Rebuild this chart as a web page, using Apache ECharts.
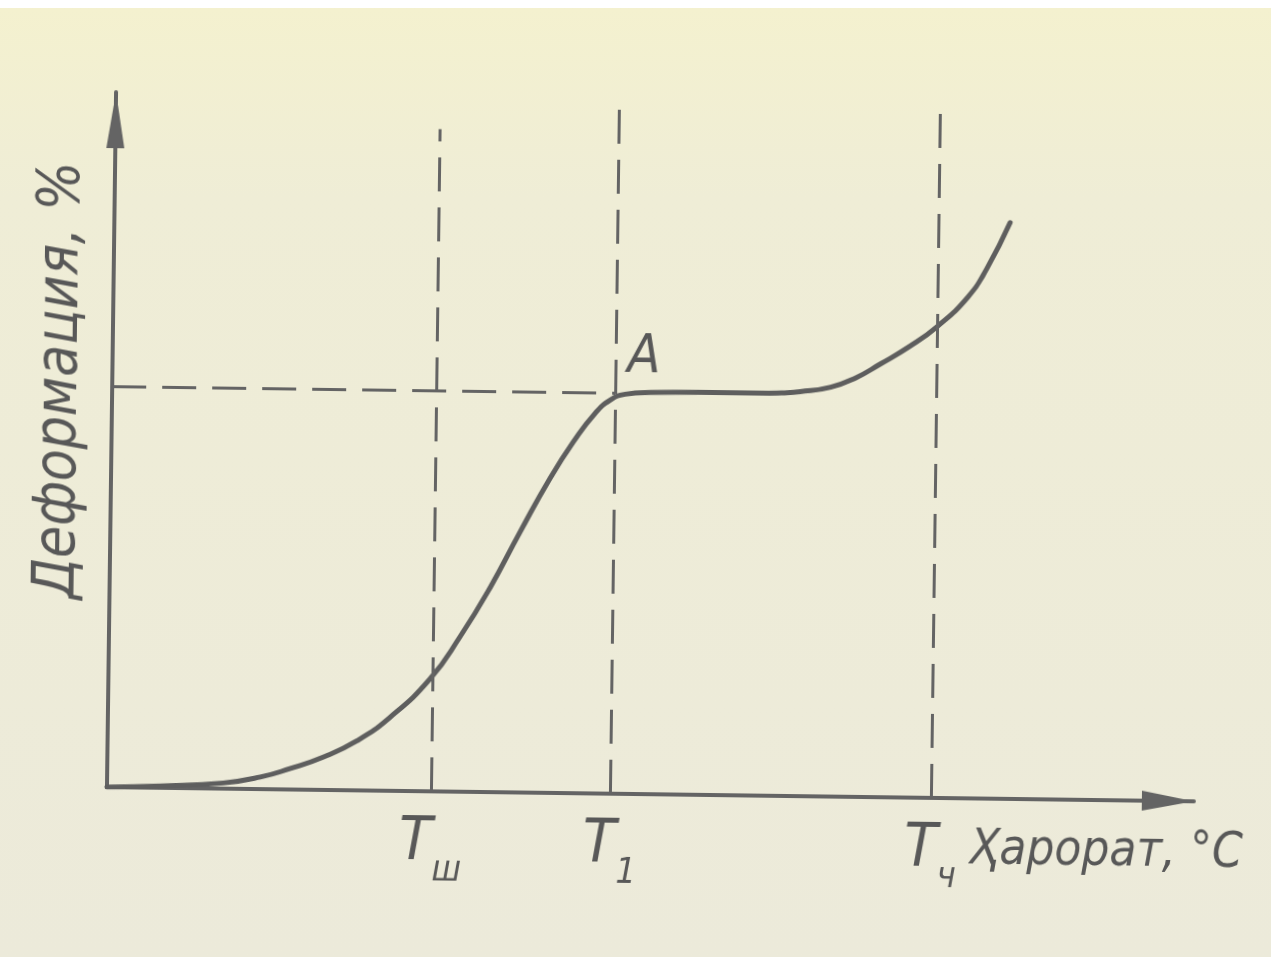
<!DOCTYPE html>
<html>
<head>
<meta charset="utf-8">
<script src="https://cdn.jsdelivr.net/npm/echarts@6/dist/echarts.min.js"></script>
<style>
  html, body { margin: 0; padding: 0; background: #ffffff; }
  #paper {
    position: absolute; left: 0; top: 8px; width: 1271px; height: 949px;
    background: linear-gradient(180deg, #f4f1cf 0%, #efedd6 20%, #eceada 100%);
  }
  #chart {
    position: absolute; left: 0; top: 0; width: 1271px; height: 964px;
    transform: rotate(0.75deg); transform-origin: 50% 50%;
  }
</style>
</head>
<body>
<div id="paper"></div>
<div id="chart"></div>
<script>
// Thermomechanical curve: deformation against temperature (arbitrary units, 0–100)
const temperature = [0, 4.9, 10.7, 14.1, 16.8, 19.9, 22.9, 25.9, 29.6, 32.3, 35.0, 37.7, 40.4, 42.6,
  44.4, 45.8, 47.2, 49.5, 54.1, 59.6, 61.6, 63.3, 66.1, 68.4, 70.6, 73.3, 75.8, 78.6, 80.3, 82.4];
const deformation = [0, 0.26, 0.81, 1.74, 3.0, 4.75, 7.1, 10.5, 16.2, 22.3, 29.4, 37.5, 45.3, 50.8,
  54.6, 56.6, 57.5, 57.8, 57.9, 57.9, 58.0, 58.2, 58.9, 60.3, 62.3, 64.9, 67.8, 72.1, 76.2, 82.9];

// Transition temperatures: T_ш (glass), T_1, T_ч (flow)
const transitionSubs = ['ш', '1', 'ч'];
const transitionTemps = [29.8, 46.3, 75.8];
const guideTops = [95.3, 100, 100];

// Point A at the start of the plateau
const pointA = [46.3, 57.6];
const pointALabel = 'A';

const xAxisName = 'Ҳарорат, °С';
const yAxisName = 'Деформация, %';

const INK = '#646464';
const TEXT = '#585858';
const FONT = "'DejaVu Sans Condensed', 'DejaVu Sans', sans-serif";

const curveData = temperature.map((t, i) => [t, deformation[i]]);

const guideLines = transitionTemps.map((t, i) => [
  { coord: [t, 0] },
  { coord: [t, guideTops[i]] }
]);
guideLines.push([{ coord: [0, pointA[1]] }, { coord: [pointA[0], pointA[1]] }]);

const chart = echarts.init(document.getElementById('chart'), null, { renderer: 'canvas' });

chart.setOption({
  backgroundColor: 'transparent',
  animation: false,
  grid: { left: 111, right: 73, top: 99, bottom: 170, containLabel: false },
  xAxis: {
    type: 'value', min: 0, max: 100,
    axisLine: {
      show: true, onZero: false,
      lineStyle: { color: INK, width: 4 },
      symbol: ['none', 'triangle'], symbolSize: [20, 52], symbolOffset: [0, -26]
    },
    axisTick: { show: false },
    splitLine: { show: false },
    axisLabel: {
      customValues: transitionTemps,
      margin: 48,
      formatter: (v) => {
        const i = transitionTemps.indexOf(v);
        return '{t|T}{s|' + transitionSubs[i] + '}';
      },
      rich: {
        t: { fontSize: 60, lineHeight: 50, fontStyle: 'italic', fontFamily: FONT, color: TEXT,
             verticalAlign: 'bottom', padding: [0, 0, 16, 0] },
        s: { fontSize: 36, lineHeight: 36, fontStyle: 'italic', fontFamily: FONT, color: TEXT,
             verticalAlign: 'bottom' }
      }
    },
    name: xAxisName,
    nameLocation: 'end',
    nameGap: -224,
    nameTextStyle: {
      fontSize: 49, fontStyle: 'italic', fontFamily: FONT, color: TEXT,
      align: 'left', verticalAlign: 'top', padding: [28, 0, 0, 0]
    }
  },
  yAxis: {
    type: 'value', min: 0, max: 100,
    axisLine: {
      show: true, onZero: false,
      lineStyle: { color: INK, width: 4 },
      symbol: ['none', 'triangle'], symbolSize: [18, 56], symbolOffset: [0, -28]
    },
    axisTick: { show: false },
    splitLine: { show: false },
    axisLabel: { show: false },
    name: yAxisName,
    nameLocation: 'middle',
    nameGap: 22,
    nameTextStyle: {
      fontSize: 58, fontStyle: 'italic', fontFamily: FONT, color: TEXT,
      padding: [0, 0, 0, 118]
    }
  },
  series: [
    {
      type: 'line',
      data: [],
      silent: true,
      markLine: {
        silent: true,
        symbol: ['none', 'none'],
        label: { show: false },
        lineStyle: { color: '#646464', width: 3, type: [34, 16] },
        data: guideLines
      }
    },
    {
      type: 'line',
      data: curveData,
      smooth: 0.5,
      showSymbol: false,
      silent: true,
      lineStyle: { color: '#5e5e5e', width: 5, cap: 'round' },
      markPoint: {
        silent: true,
        symbol: 'circle',
        symbolSize: 1,
        itemStyle: { color: 'rgba(0,0,0,0)' },
        label: {
          show: true,
          formatter: pointALabel,
          position: [12, -62],
          fontSize: 54, fontStyle: 'italic', fontFamily: FONT, color: TEXT
        },
        data: [{ coord: pointA }]
      }
    }
  ]
});
</script>
</body>
</html>
